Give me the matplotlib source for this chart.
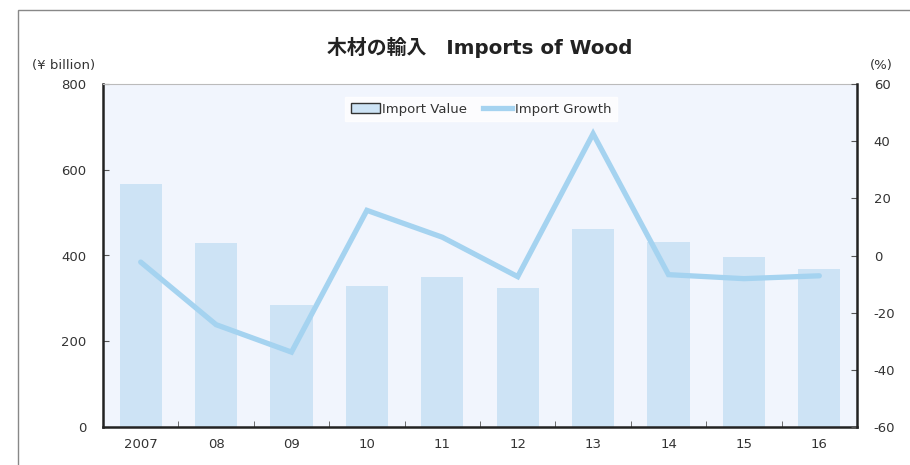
import numpy as np
import matplotlib.pyplot as plt
from matplotlib.patches import Rectangle, Patch
from matplotlib.lines import Line2D

plt.rcParams['font.family'] = ['DejaVu Sans', 'Noto Sans CJK JP']
plt.rcParams['axes.unicode_minus'] = False

years = ['2007', '08', '09', '10', '11', '12', '13', '14', '15', '16']
import_value = [566, 429, 284, 329, 350, 324, 462, 431, 396, 368]
import_growth = [-2.3, -24.2, -33.8, 15.8, 6.4, -7.4, 42.6, -6.7, -8.1, -7.1]

bar_color = '#cde3f5'
line_color = '#a5d3f0'
bg_color = '#f1f5fd'
text_color = '#333333'

fig = plt.figure(figsize=(9.1, 4.65), dpi=100)
W, H = 910, 465

# outer frame
fig.patches.append(Rectangle((18 / W, -0.05), 1.0, 1 - 10 / H + 0.05,
                             transform=fig.transFigure, fill=False,
                             edgecolor='#888888', linewidth=1.0))

ax = fig.add_axes([103 / W, 1 - 427 / H, 754 / W, 343 / H])
ax.set_facecolor(bg_color)
x = np.arange(len(years))
ax.bar(x, import_value, width=0.56, color=bar_color, zorder=2)
ax.set_xlim(-0.5, len(years) - 0.5)
ax.set_ylim(0, 800)
ax.set_yticks([0, 200, 400, 600, 800])
ax.set_xticks(x)
ax.set_xticklabels(years)
ax.set_xticks(np.arange(0.5, len(years) - 1, 1.0), minor=True)
ax.tick_params(axis='x', which='major', length=0, pad=8, labelsize=9.5, labelcolor=text_color)
ax.tick_params(axis='x', which='minor', direction='in', length=4, color='#555555')
ax.tick_params(axis='y', direction='in', length=4, color='#555555', labelsize=9.5,
               labelcolor=text_color, pad=12)
for s in ['left', 'bottom']:
    ax.spines[s].set_linewidth(1.8)
    ax.spines[s].set_color('#222222')
ax.spines['top'].set_color('#bbbbbb')
ax.spines['top'].set_linewidth(0.8)
ax.spines['right'].set_visible(False)

ax2 = ax.twinx()
ax2.plot(x, import_growth, color=line_color, linewidth=3.8, solid_capstyle='round',
         solid_joinstyle='miter', zorder=3)
ax2.set_ylim(-60, 60)
ax2.set_yticks([-60, -40, -20, 0, 20, 40, 60])
ax2.tick_params(axis='y', direction='in', length=4, color='#555555', labelsize=9.5,
                labelcolor=text_color, pad=12)
for s in ['left', 'bottom', 'top']:
    ax2.spines[s].set_visible(False)
ax2.spines['right'].set_linewidth(1.8)
ax2.spines['right'].set_color('#222222')

handles = [Patch(facecolor=bar_color, edgecolor='#333333', linewidth=1.0),
           Line2D([0], [0], color=line_color, linewidth=3.8)]
leg = ax2.legend(handles, ['Import Value', 'Import Growth'], loc='center',
                 bbox_to_anchor=((481 - 103) / 754, (427 - 109) / 343), ncol=2,
                 frameon=True, fancybox=False, fontsize=9.5, handlelength=2.2,
                 handletextpad=0.2, columnspacing=1.2, borderpad=0.4)
leg.get_frame().set_facecolor('white')
leg.get_frame().set_edgecolor('white')
for t in leg.get_texts():
    t.set_color(text_color)

fig.text(480 / W, 1 - 47 / H, '木材の輸入　Imports of Wood', ha='center', va='center',
         fontsize=14.3, fontweight='bold', color='#222222',
         family=['DejaVu Sans', 'Noto Sans CJK JP'])
fig.text(95 / W, 1 - 65 / H, '(¥ billion)', ha='right', va='center', fontsize=9.5, color=text_color)
fig.text(870 / W, 1 - 65 / H, '(%)', ha='left', va='center', fontsize=9.5, color=text_color)

fig.savefig('out.png', dpi=100)
